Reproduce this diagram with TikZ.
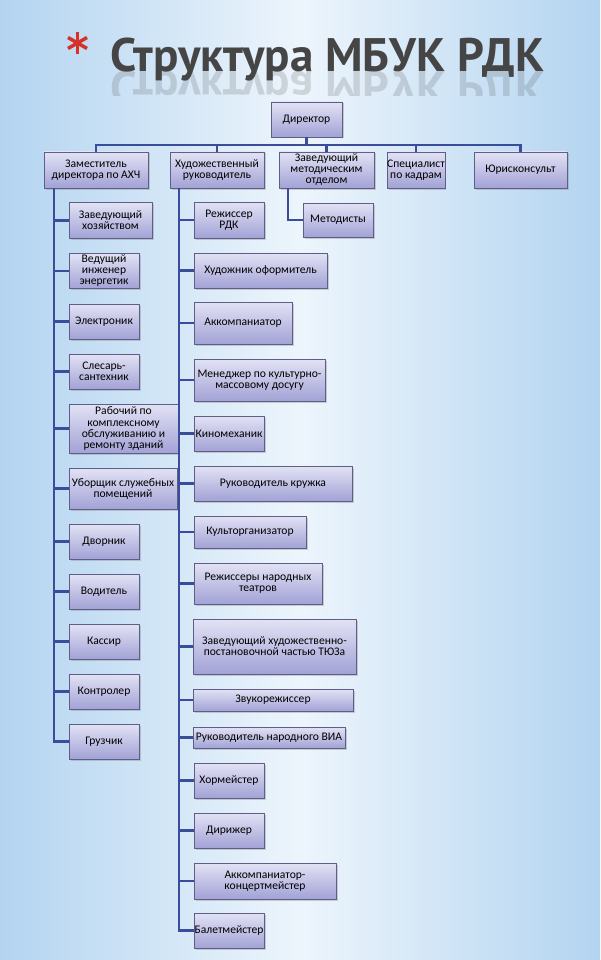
\documentclass[tikz,border=0pt]{standalone}
\usepackage{fontspec}
\setmainfont{Carlito}
\newfontfamily\titlefont{PT Sans}
\usetikzlibrary{shadows,calc}
\definecolor{bgside}{HTML}{B3D4F0}
\definecolor{bgmid}{HTML}{EDF5FC}
\definecolor{boxtop}{HTML}{E2E2F5}
\definecolor{boxbot}{HTML}{A2A2D6}
\definecolor{boxborder}{HTML}{5E5E86}
\definecolor{linecol}{HTML}{3A4C9C}
\definecolor{titlecol}{HTML}{454545}
\definecolor{starred}{HTML}{D6322A}
\tikzset{
  orgbox/.style={draw=boxborder, line width=0.6pt, top color=boxtop, bottom color=boxbot,
    inner sep=0pt, align=center, font=\fontsize{11.6}{11}\selectfont,
    drop shadow={opacity=0.35, shadow xshift=1.5pt, shadow yshift=-1.5pt}},
  sz/.style 2 args={minimum width=#1pt, minimum height=#2pt},
  conn/.style={draw=linecol, line width=2.4pt},
  titletext/.style={font=\titlefont\bfseries\fontsize{47}{47}\selectfont, text=titlecol, anchor=base, inner sep=0pt},
}
\begin{document}
\begin{tikzpicture}[x=1pt,y=-1pt]
\shade[left color=bgside, right color=bgside, middle color=bgmid] (0,0) rectangle (600,960);
\useasboundingbox (0,0) rectangle (600,960);

% title
\foreach \a in {90,30,150} \draw[starred, line width=3.5pt] (77.5,43) ++(\a:11) -- ++(\a+180:22);
\node[titletext] (title) at (327.5,72) {Структура МБУК РДК};
\begin{scope}
  \clip (100,72) rectangle (560,96);
  \node[titletext, opacity=0.18, yscale=-1] (titlerefl) at (327.5,72) {Структура МБУК РДК};
\end{scope}

% top level
\node[orgbox, sz={71}{35}] (dir) at (306.5,119.5) {Директор};
\node[orgbox, sz={104}{36}] (axch) at (96,170) {Заместитель\\директора по АХЧ};
\node[orgbox, sz={94}{36}] (hud) at (217,170) {Художественный\\руководитель};
\node[orgbox, sz={95}{36}] (zavmet) at (326.5,170) {Заведующий\\методическим\\отделом};
\node[orgbox, sz={56}{36}] (spec) at (416,170) {Специалист\\по кадрам};
\node[orgbox, sz={93}{36}] (jur) at (520.5,170) {Юрисконсульт};
\node[orgbox, sz={70}{34}] (metod) at (338,220) {Методисты};

% left column
\node[orgbox, sz={83}{36}] (zh) at (110.5,220.5) {Заведующий\\хозяйством};
\node[orgbox, sz={70}{35}] (ving) at (104,271) {Ведущий\\инженер\\энергетик};
\node[orgbox, sz={70}{35}] (el) at (104,321.5) {Электроник};
\node[orgbox, sz={70}{35}] (sles) at (104,371.5) {Слесарь-\\сантехник};
\node[orgbox, sz={109}{49}] (rab) at (123.5,428.5) {Рабочий по\\комплексному\\обслуживанию и\\ремонту зданий};
\node[orgbox, sz={108}{41}] (ub) at (123,488.5) {Уборщик служебных\\помещений};
\node[orgbox, sz={70}{35}] (dv) at (104,541.5) {Дворник};
\node[orgbox, sz={70}{35}] (vod) at (104,591.5) {Водитель};
\node[orgbox, sz={70}{35}] (kas) at (104,641.5) {Кассир};
\node[orgbox, sz={70}{35}] (kon) at (104,691.5) {Контролер};
\node[orgbox, sz={70}{35}] (gr) at (104,741.5) {Грузчик};

% middle column
\node[orgbox, sz={70}{36}] (rr) at (229,220) {Режиссер\\РДК};
\node[orgbox, sz={133}{35}] (ho) at (260.5,270.5) {Художник оформитель};
\node[orgbox, sz={98}{42}] (ak) at (243,323) {Аккомпаниатор};
\node[orgbox, sz={131}{42}] (men) at (259.5,380) {Менеджер по культурно-\\массовому досугу};
\node[orgbox, sz={70}{35}] (kino) at (229,433.5) {Киномеханик};
\node[orgbox, sz={158}{35}] (ruk) at (273,483.5) {Руководитель кружка};
\node[orgbox, sz={112}{32}] (kult) at (250,532) {Культорганизатор};
\node[orgbox, sz={128}{41}] (rez) at (258,583.5) {Режиссеры народных\\театров};
\node[orgbox, sz={163}{55}] (zav) at (274.5,646.5) {Заведующий художественно-\\постановочной частью ТЮЗа};
\node[orgbox, sz={160}{22}] (zvuk) at (273,700) {Звукорежиссер};
\node[orgbox, sz={152}{21}] (via) at (269,737.5) {Руководитель народного ВИА};
\node[orgbox, sz={70}{35}] (hor) at (229,780.5) {Хормейстер};
\node[orgbox, sz={70}{35}] (dirij) at (229,830.5) {Дирижер};
\node[orgbox, sz={142}{36}] (akk) at (265,881) {Аккомпаниатор-\\концертмейстер};
\node[orgbox, sz={70}{35}] (bal) at (229,930.5) {Балетмейстер};

% connectors
\coordinate (bus) at (0,145);
\foreach \c in {axch,hud,zavmet,spec,jur}
  \draw[conn] (dir.south) -- (dir.south |- bus) -| (\c.north);
\coordinate (ls) at ($(axch.south west)+(10,0)$);
\foreach \c in {zh,ving,el,sles,rab,ub,dv,vod,kas,kon,gr}
  \draw[conn] (ls) |- (\c.west);
\coordinate (ms) at ($(hud.south west)+(9,0)$);
\foreach \c in {rr,ho,ak,men,kino,ruk,kult,rez,zav,zvuk,via,hor,dirij,akk,bal}
  \draw[conn] (ms) |- (\c.west);
\coordinate (zs) at ($(zavmet.south west)+(9,0)$);
\draw[conn] (zs) |- (metod.west);
\end{tikzpicture}
\end{document}
